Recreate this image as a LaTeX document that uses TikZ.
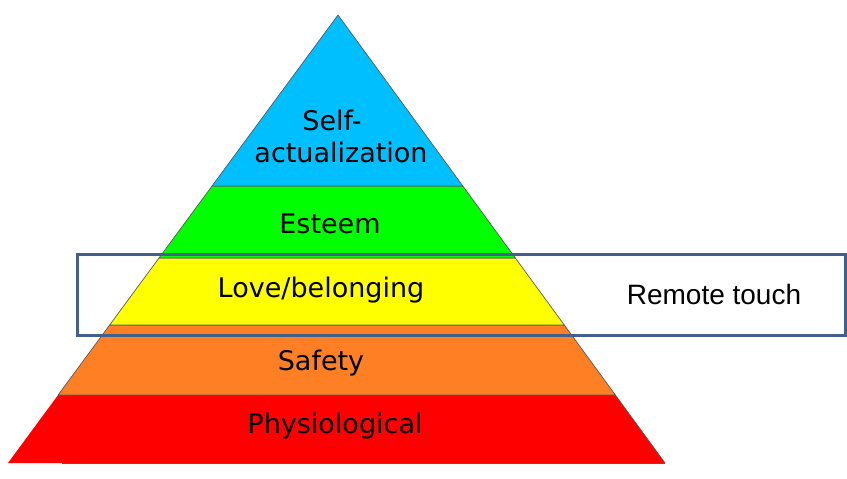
\documentclass[tikz,border=0pt]{standalone}
\usepackage{fontspec}
\setmainfont{Liberation Sans}
\newfontfamily\pyr{DejaVu Sans}
\usetikzlibrary{calc}
\definecolor{lvblue}{RGB}{0,191,255}
\definecolor{lvgreen}{RGB}{0,255,0}
\definecolor{lvyellow}{RGB}{255,255,0}
\definecolor{lvorange}{RGB}{255,128,36}
\definecolor{lvred}{RGB}{255,0,0}
\definecolor{boxblue}{RGB}{65,97,140}
\begin{document}
\begin{tikzpicture}[x=1pt,y=-1pt,
  layer/.style={draw=black!65,line width=0.7pt,line join=round},
  lbl/.style={font=\pyr\fontsize{27}{32}\selectfont,anchor=base,inner sep=0pt},
  rbox/.style={draw=boxblue,line width=2.8pt}]
\useasboundingbox (0,0) rectangle (847,479);
\coordinate (A) at (338,15);
\coordinate (BL) at (8,463);
\coordinate (BR) at (665,463);
% fractions along edges for y = 186, 258, 325, 395
\foreach \n/\t in {1/0.38170, 2/0.54241, 3/0.69196, 4/0.84821}{
  \coordinate (L\n) at ($(A)!\t!(BL)$);
  \coordinate (R\n) at ($(A)!\t!(BR)$);
}
\fill[lvred] (L4) -- (R4) -- (BR) -- (BL) -- cycle;
\draw[layer] (L4) -- (R4) -- (BR);
\draw[black!65,line width=0.8pt] (62,463) -- (BR);
\filldraw[layer,fill=lvorange] (L3) -- (R3) -- (R4) -- (L4) -- cycle;
\filldraw[layer,fill=lvyellow] (L2) -- (R2) -- (R3) -- (L3) -- cycle;
\filldraw[layer,fill=lvgreen] (L1) -- (R1) -- (R2) -- (L2) -- cycle;
\filldraw[layer,fill=lvblue] (A) -- (R1) -- (L1) -- cycle;
\node[lbl] (selfA) at (332,130) {Self-};
\node[lbl] (selfB) at (341,162) {actualization};
\node[lbl] (esteem) at (330,233) {Esteem};
\node[lbl] (love) at (321,297) {Love/belonging};
\node[lbl] (safety) at (321,370) {Safety};
\node[lbl] (phys) at (335,433) {Physiological};
\node[rbox,minimum width=768pt,minimum height=81pt,inner sep=0pt,anchor=north west] (box) at (76,253) {};
\node[font=\fontsize{28}{32}\selectfont,anchor=base,inner sep=0pt] (remote) at (714,304) {Remote touch};
\end{tikzpicture}
\end{document}
